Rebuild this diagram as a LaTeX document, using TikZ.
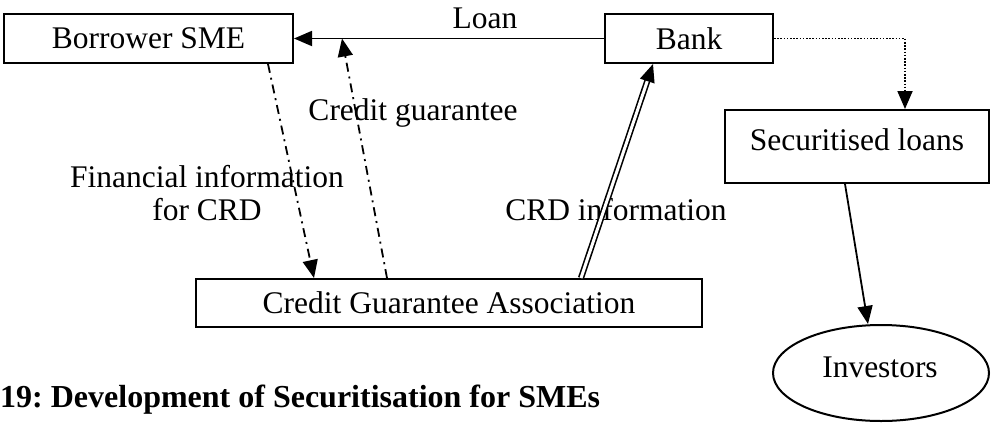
\documentclass[tikz,border=0pt]{standalone}
\usepackage{fontspec}
\setmainfont{Liberation Serif}
\usetikzlibrary{arrows.meta,shapes.geometric,calc}

\tikzset{
  box/.style={draw, line width=2pt, rectangle, inner sep=0pt},
  arr/.style={line width=1.8pt, -{Triangle[length=18pt,width=15pt]}},
  dashdot/.style={arr, dash pattern=on 9pt off 5pt on 2pt off 5pt},
  dots/.style={arr, dash pattern=on 1.6pt off 1.6pt},
  lbl/.style={inner sep=0pt}
}

\begin{document}
\frenchspacing
\begin{tikzpicture}[x=1pt, y=-1pt, font=\fontsize{31.5}{33}\selectfont]
  \useasboundingbox (0,0) rectangle (991,424);

  % boxes
  \node[box, minimum width=289pt, minimum height=49pt] (sme) at (148.5,38.5) {Borrower SME};
  \node[box, minimum width=168pt, minimum height=49pt] (bank) at (689,38.5) {Bank};
  \node[box, minimum width=264pt, minimum height=73pt] (sec) at (857,146.5) {};
  \node[lbl] at (857,140) {Securitised loans};
  \node[box, minimum width=506pt, minimum height=48pt] (cga) at (449,303) {Credit Guarantee Association};
  \node[draw, line width=2pt, ellipse, minimum width=216pt, minimum height=96pt, inner sep=0pt] (inv) at (881,373) {};
  \node[lbl] at (880,367) {Investors};

  % loan from bank to borrower
  \draw[arr] (bank.west) -- (sme.east);
  \node[lbl] at (485,18) {Loan};

  % financial information and credit guarantee
  \coordinate (cgtip) at ([xshift=-262pt]bank.west);
  \draw[dashdot] ([xshift=265pt]sme.south west) -- ([xshift=119pt]cga.north west);
  \draw[dashdot] ([xshift=192pt]cga.north west) -- (cgtip);
  \node[lbl] at (413,113) {Credit guarantee};
  \node[lbl, align=center] at (207,193) {Financial information\\for CRD};

  % CRD information to the bank
  \node[lbl] at (616,210) {CRD information};
  \draw[line width=1.6pt, double, double distance=3pt, -{Triangle[length=18pt,width=15pt]}]
    ([xshift=386pt]cga.north west) -- ([xshift=-36pt]bank.south);

  % securitisation chain
  \draw[dots] (bank.east) -| ([xshift=48pt]sec.north);
  \draw[arr] ([xshift=-12pt]sec.south) -- ([xshift=-13pt]inv.north);

  % caption
  \node[lbl, anchor=west, font=\fontsize{32}{34}\selectfont\bfseries] at (0,400) {19: Development of Securitisation for SMEs};
\end{tikzpicture}
\end{document}
